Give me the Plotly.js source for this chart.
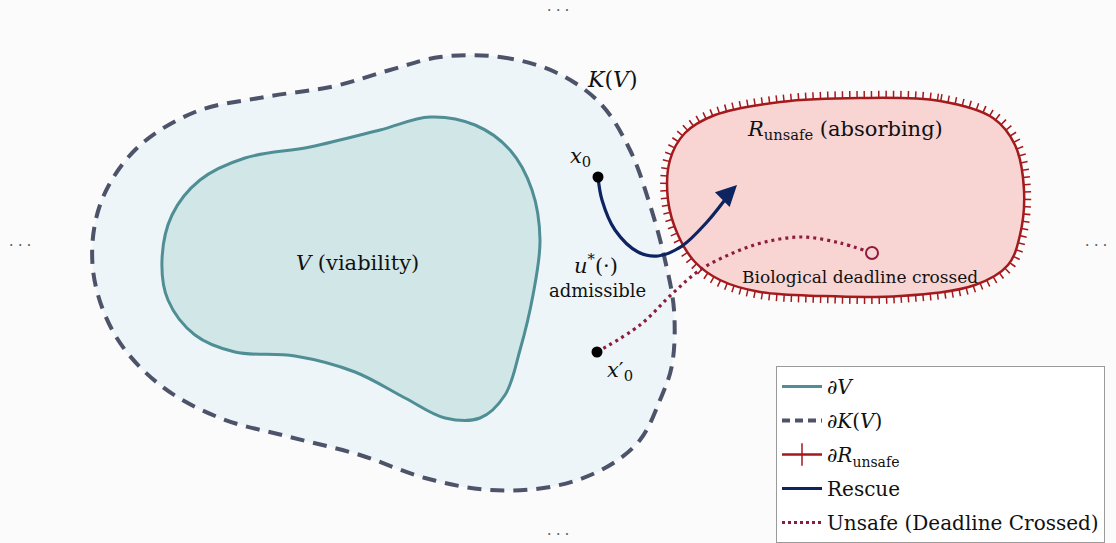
<!DOCTYPE html>
<html><head><meta charset="utf-8">
<script src="https://cdn.plot.ly/plotly-3.0.1.min.js"></script>
<style>html,body{margin:0;padding:0;background:#fbfbfb;}#chart{width:1116px;height:543px;}</style>
</head><body><div id="chart"></div>
<script>
// Outline of the capture basin K(V)
const kvX = [440,500,555,600,630,650,665,674,672,660,640,605,555,490,425,360,290,220,160,115,93,100,135,195,265,335,390,440];
const kvY = [57,57,72,103,150,205,260,310,365,400,440,468,486,490,478,455,437,418,385,335,270,205,150,112,97,86,70,57];
// Outline of the viability set V
const vX = [430,475,510,532,540,533,520,505,480,445,405,355,295,235,195,168,162,172,200,245,310,380,430];
const vY = [117,125,150,190,240,295,350,395,418,418,398,372,356,352,335,300,260,215,180,158,147,130,117];
// Outline of the absorbing unsafe region
const rX = [860,940,993,1015,1024,1020,1008,975,900,820,760,720,695,678,668,670,685,715,780,860];
const rY = [98,101,118,145,190,235,265,285,296,296,292,280,262,235,200,160,133,115,102,98];
// Rescue trajectory (from x0)
const rescueX = [598,602,615,638,658,682,707,730];
const rescueY = [177,200,230,252,256,246,222,193];
// Unsafe trajectory (from x0')
const unsafeX = [597,640,673,700,733,765,803,840,866];
const unsafeY = [352,325,293,270,253,242,237,243,251];
// Start points and end point
const x0 = [598, 177];
const x0p = [597, 352];
const endPt = [872, 253];

const teal = '#4e8e94', slate = '#4d5369', red = '#a3191c', navy = '#0e2461', crimson = '#8e1c3c';
const serif = 'DejaVu Serif';

const traces = [
  {x: kvX, y: kvY, mode: 'lines', fill: 'toself', fillcolor: '#edf5f8',
   line: {color: slate, width: 4, dash: '14px,9px', shape: 'spline', smoothing: 1}, showlegend: false, hoverinfo: 'skip'},
  {x: vX, y: vY, mode: 'lines', fill: 'toself', fillcolor: '#d1e6e7',
   line: {color: teal, width: 3, shape: 'spline', smoothing: 1}, showlegend: false, hoverinfo: 'skip'},
  // hatch ticks on the unsafe boundary
  {x: rX, y: rY, mode: 'lines',
   line: {color: red, width: 14, dash: '1.5px,5.8px', shape: 'spline', smoothing: 1}, showlegend: false, hoverinfo: 'skip'},
  {x: rX, y: rY, mode: 'lines', fill: 'toself', fillcolor: '#f8d4d3',
   line: {color: red, width: 2.5, shape: 'spline', smoothing: 1}, showlegend: false, hoverinfo: 'skip'},
  {x: unsafeX, y: unsafeY, mode: 'lines',
   line: {color: crimson, width: 3.2, dash: '3px,4px', shape: 'spline', smoothing: 1}, showlegend: false, hoverinfo: 'skip'},
  {x: rescueX, y: rescueY, mode: 'lines',
   line: {color: navy, width: 3.2, shape: 'spline', smoothing: 1}, showlegend: false, hoverinfo: 'skip'},
  {x: [x0[0], x0p[0]], y: [x0[1], x0p[1]], mode: 'markers',
   marker: {color: '#000', size: 11}, showlegend: false, hoverinfo: 'skip'},
  {x: [endPt[0]], y: [endPt[1]], mode: 'markers',
   marker: {color: '#f8d4d3', size: 12, line: {color: crimson, width: 2}}, showlegend: false, hoverinfo: 'skip'},
  // legend entries
  {x: [null], y: [null], mode: 'lines', name: '∂<i>V</i>', legendgroup: 'a',
   line: {color: teal, width: 3}},
  {x: [null], y: [null], mode: 'lines', name: '∂<i>K</i>(<i>V</i>)', legendgroup: 'b',
   line: {color: slate, width: 4, dash: '8px,5px'}},
  {x: [null], y: [null], mode: 'lines+markers', name: '∂<i>R</i><sub>unsafe</sub>', legendgroup: 'c',
   line: {color: red, width: 2.5}, marker: {symbol: 'line-ns', size: 16, line: {color: red, width: 1.5}}},
  {x: [null], y: [null], mode: 'lines', name: 'Rescue', legendgroup: 'd',
   line: {color: navy, width: 3.2}},
  {x: [null], y: [null], mode: 'lines', name: 'Unsafe (Deadline Crossed)', legendgroup: 'e',
   line: {color: crimson, width: 3.2, dash: '3px,3px'}}
];

const ann = (x, y, text, size, color) => ({x, y, xref: 'x', yref: 'y', text, showarrow: false,
  font: {family: serif, size: size, color: color || '#111'}});

const layout = {
  width: 1116, height: 543,
  margin: {l: 0, r: 0, t: 0, b: 0},
  font: {family: serif},
  paper_bgcolor: '#fbfbfb', plot_bgcolor: '#fbfbfb',
  xaxis: {range: [0, 1116], visible: false, fixedrange: true},
  yaxis: {range: [543, 0], visible: false, fixedrange: true},
  showlegend: true,
  legend: {x: 776/1116, y: 0, xanchor: 'left', yanchor: 'bottom',
    bgcolor: 'rgba(255,255,255,0.92)', bordercolor: '#9a9a9a', borderwidth: 1,
    font: {family: serif, size: 20, color: '#111'}, tracegroupgap: 5, itemwidth: 40},
  annotations: [
    ann(612, 79, '<i>K</i>(<i>V</i>)', 22),
    ann(580, 157, '<i>x</i><sub>0</sub>', 21),
    ann(357, 263, '<i>V</i> (viability)', 21),
    ann(596, 264, '<i>u</i><sup>*</sup>(·)', 21),
    ann(597, 290, 'admissible', 18),
    ann(620, 371, '<i>x</i>′<sub>0</sub>', 21),
    ann(845, 130, '<i>R</i><sub>unsafe</sub> (absorbing)', 21),
    ann(860, 277, 'Biological deadline crossed', 17),
    ann(558, 10, '· · ·', 14, '#555'),
    ann(20, 245, '· · ·', 14, '#555'),
    ann(1096, 245, '· · ·', 14, '#555'),
    ann(558, 534, '· · ·', 14, '#555'),
    {x: 737, y: 185, ax: 722, ay: 200, xref: 'x', yref: 'y', axref: 'x', ayref: 'y', text: '',
     showarrow: true, arrowhead: 2, arrowsize: 1.3, arrowwidth: 3.2, arrowcolor: navy}
  ]
};

Plotly.newPlot('chart', traces, layout, {staticPlot: true, displayModeBar: false});
</script></body></html>
